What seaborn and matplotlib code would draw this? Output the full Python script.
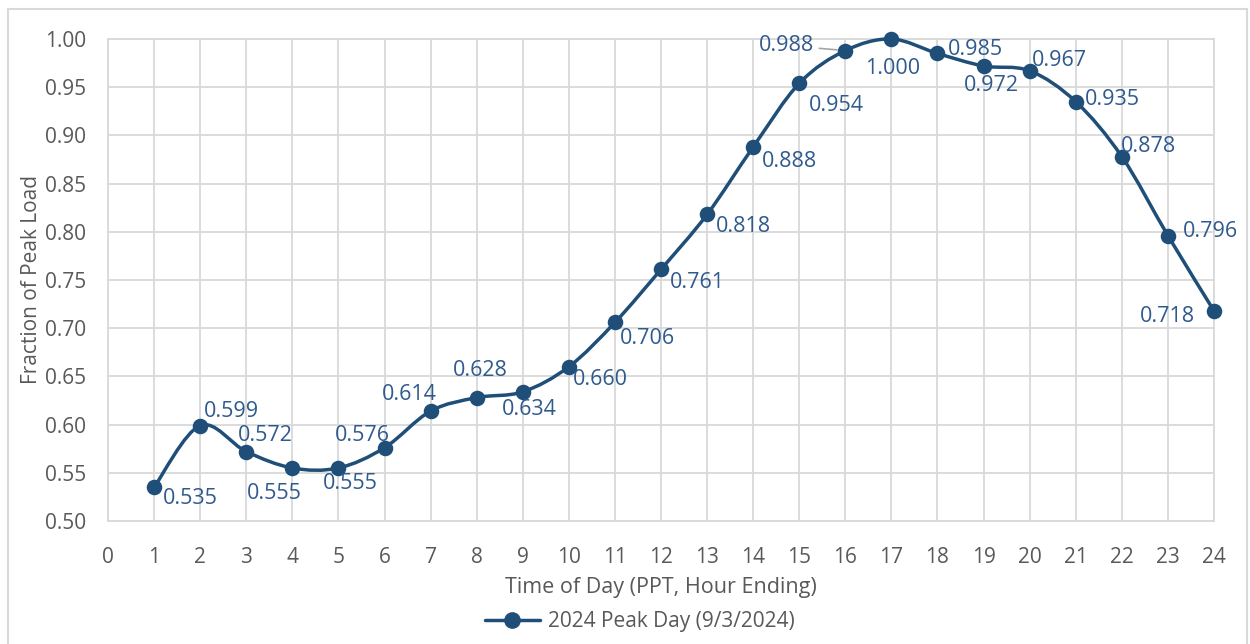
import matplotlib
matplotlib.use("Agg")
import matplotlib.pyplot as plt
import seaborn as sns
import numpy as np
import pandas as pd
from matplotlib.path import Path
from matplotlib.patches import PathPatch, Rectangle
from matplotlib.lines import Line2D

# ── Data ──────────────────────────────────────────────────────────────────────
hours = list(range(1, 25))
load_frac = [0.535, 0.599, 0.572, 0.555, 0.555, 0.576, 0.614, 0.628, 0.634, 0.660,
             0.706, 0.761, 0.818, 0.888, 0.954, 0.988, 1.000, 0.985, 0.972, 0.967,
             0.935, 0.878, 0.796, 0.718]
series_name = "2024 Peak Day (9/3/2024)"

# label offsets in pixels (left edge dx, centre dy, positive up)
label_dx = [9, 4, -8, -45, -16, -50, -49, -24, -21, 4, 5, 9, 9, 9, 10, -86,
            -26, 10, -20, 2, 9, -1, 15, -74]
label_dy = [-11, 14, 16, -26, -16, 12, 17, 27, -18, -13, -16, -13, -12, -15, -22, 5,
            -29, 4, -20, 10, 2, 10, 4, -6]

LINE = "#1F4E79"
LABEL = "#2F5A8E"
GRID = "#D9D9D9"
TICK = "#595959"

sns.set_style("white")
plt.rcParams["font.family"] = ["Open Sans", "DejaVu Sans"]

df = pd.DataFrame({"hour": hours, "frac": load_frac})

fig = plt.figure(figsize=(12.5, 6.44), dpi=100)
ax = fig.add_axes([108 / 1250, 1 - 521 / 644, 1106 / 1250, 482 / 644])

# smoothed line (Catmull-Rom style bezier through the data points)
x = df["hour"].to_numpy(float)
y = df["frac"].to_numpy(float)
verts = [(x[0], y[0])]
codes = [Path.MOVETO]
n = len(x)
for i in range(n - 1):
    p0 = np.array([x[max(i - 1, 0)], y[max(i - 1, 0)]])
    p1 = np.array([x[i], y[i]])
    p2 = np.array([x[i + 1], y[i + 1]])
    p3 = np.array([x[min(i + 2, n - 1)], y[min(i + 2, n - 1)]])
    c1 = p1 + (p2 - p0) / 6
    c2 = p2 - (p3 - p1) / 6
    verts += [tuple(c1), tuple(c2), tuple(p2)]
    codes += [Path.CURVE4] * 3
ax.add_patch(PathPatch(Path(verts, codes), facecolor="none", edgecolor=LINE,
                       lw=2.5, zorder=3, capstyle="round", clip_on=False))

sns.scatterplot(data=df, x="hour", y="frac", ax=ax, color=LINE, s=125,
                edgecolor=LINE, linewidth=0, zorder=4, legend=False, clip_on=False)

# data labels
for i, (h, v) in enumerate(zip(hours, load_frac)):
    kw = {}
    if i == 15:
        kw["arrowprops"] = dict(arrowstyle="-", color="#A6A6A6", lw=1.2,
                                shrinkA=1, shrinkB=6)
    ax.annotate(f"{v:.3f}", (h, v), xytext=(label_dx[i], label_dy[i]),
                textcoords="offset pixels", ha="left", va="center",
                fontsize=15.5, color=LABEL, zorder=5, **kw)

ax.set_xlim(0, 24)
ax.set_ylim(0.50, 1.00)
ax.set_xticks(range(0, 25))
ax.set_yticks(np.arange(0.50, 1.001, 0.05))
ax.set_yticklabels([f"{t:.2f}" for t in np.arange(0.50, 1.001, 0.05)])
ax.grid(True, color=GRID, lw=1.3, zorder=0)
ax.set_axisbelow(True)
for s in ax.spines.values():
    s.set_color(GRID)
    s.set_linewidth(1.3)
ax.tick_params(axis="x", length=0, labelsize=15, labelcolor=TICK, pad=19)
ax.tick_params(axis="y", length=0, labelsize=15, labelcolor=TICK, pad=16)
ax.set_xlabel("Time of Day (PPT, Hour Ending)", fontsize=15.5, color=TICK, labelpad=6)
ax.set_ylabel("Fraction of Peak Load", fontsize=15, color=TICK, labelpad=2)

handle = Line2D([0], [0], color=LINE, lw=2.5, marker="o", markersize=11)
fig.legend([handle], [series_name], loc="center", bbox_to_anchor=(640 / 1250, 1 - 622 / 644),
           frameon=False, fontsize=15, labelcolor=TICK, handlelength=2.6,
           handletextpad=0.4)

# chart-area border
fig.patches.append(Rectangle((8 / 1250, -0.05), 1239 / 1250, 1 - 9 / 644 + 0.05,
                             transform=fig.transFigure, fill=False,
                             edgecolor=GRID, lw=1.5))

fig.savefig("out.png", dpi=100, facecolor="white")
